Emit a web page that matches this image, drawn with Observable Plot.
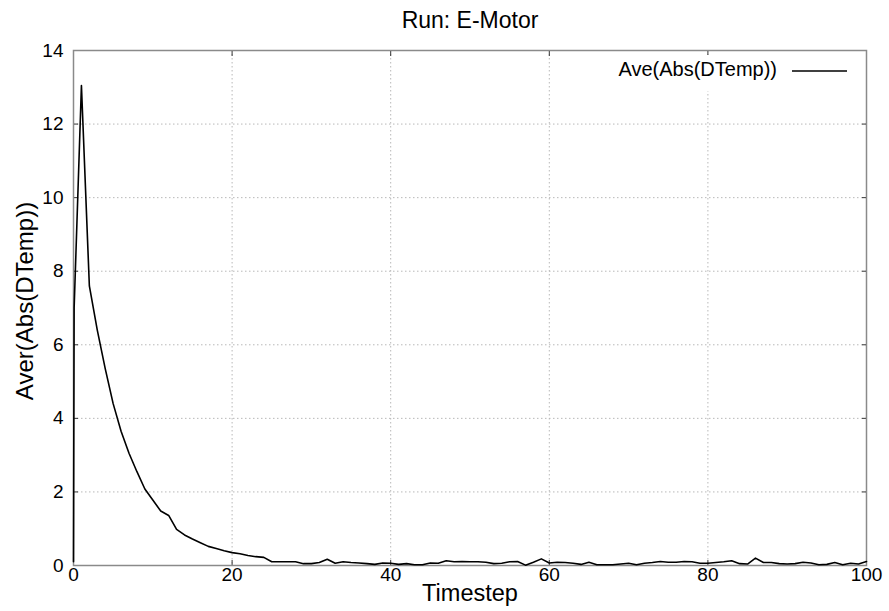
<!DOCTYPE html>
<html>
<head>
<meta charset="utf-8">
<script src="https://cdn.jsdelivr.net/npm/d3@7"></script>
<script src="https://cdn.jsdelivr.net/npm/@observablehq/plot@0.6"></script>
<style>
  html, body { margin: 0; padding: 0; background: #fff; }
  #chart { width: 889px; height: 611px; }
  svg { font-family: "Liberation Sans", Arial, Helvetica, sans-serif; }
</style>
</head>
<body>
<div id="chart"></div>
<script>
const title = "Run: E-Motor";
const xLabel = "Timestep";
const yLabel = "Aver(Abs(DTemp))";
const seriesName = "Ave(Abs(DTemp))";
const xTicks = [0, 20, 40, 60, 80, 100];
const yTicks = [0, 2, 4, 6, 8, 10, 12, 14];

const startSteps = [0, 0.08];
const startValues = [0.1, 7.0];

// values at timesteps 1..100
const stepValues = [
  13.05, 7.6, 6.4, 5.35, 4.4, 3.65, 3.05, 2.55, 2.08, 1.78,
  1.48, 1.36, 0.98, 0.83, 0.72, 0.62, 0.52, 0.46, 0.40, 0.35,
  0.32, 0.27, 0.24, 0.22, 0.10, 0.10, 0.10, 0.10, 0.05, 0.05,
  0.08, 0.17, 0.06, 0.10, 0.08, 0.07, 0.05, 0.03, 0.07, 0.06,
  0.03, 0.05, 0.02, 0.02, 0.07, 0.06, 0.13, 0.10, 0.11, 0.10,
  0.10, 0.09, 0.05, 0.06, 0.10, 0.11, 0.01, 0.09, 0.18, 0.07,
  0.09, 0.08, 0.06, 0.03, 0.09, 0.02, 0.02, 0.02, 0.04, 0.06,
  0.02, 0.06, 0.08, 0.11, 0.09, 0.09, 0.11, 0.10, 0.06, 0.06,
  0.08, 0.10, 0.13, 0.05, 0.04, 0.20, 0.08, 0.08, 0.05, 0.04,
  0.05, 0.09, 0.07, 0.02, 0.03, 0.08, 0.02, 0.06, 0.04, 0.11
];

const data = [
  ...startSteps.map((t, i) => ({t, v: startValues[i]})),
  ...stepValues.map((v, i) => ({t: i + 1, v}))
];

const W = 889, H = 611;
const mL = 73, mR = 23, mT = 50, mB = 46;

const chart = Plot.plot({
  width: W,
  height: H,
  marginLeft: mL,
  marginRight: mR,
  marginTop: mT,
  marginBottom: mB,
  style: {fontFamily: '"Liberation Sans", Arial, sans-serif', background: "#fff", overflow: "visible"},
  x: {domain: [0, 100], ticks: xTicks, label: null},
  y: {domain: [0, 14], ticks: yTicks, label: null},
  marks: [
    Plot.gridX(xTicks.slice(1, -1), {stroke: "#b8b8b8", strokeOpacity: 1, strokeDasharray: "1.5,2.5"}),
    Plot.gridY(yTicks.slice(1, -1), {stroke: "#b8b8b8", strokeOpacity: 1, strokeDasharray: "1.5,2.5"}),
    Plot.axisY(yTicks, {anchor: "left", tickSize: -5, tickPadding: 15, fontSize: 19, stroke: "#333", label: null}),
    Plot.axisY(yTicks, {anchor: "right", tickSize: -5, text: null, stroke: "#333", label: null}),
    Plot.axisX(xTicks, {anchor: "bottom", tickSize: -5, tickPadding: 7, fontSize: 19, stroke: "#333", label: null}),
    Plot.axisX(xTicks, {anchor: "top", tickSize: -5, text: null, stroke: "#333", label: null}),
    Plot.frame({stroke: "#8a8a8a", strokeWidth: 1.5}),
    Plot.line(data, {x: "t", y: "v", stroke: "#000", strokeWidth: 1.6}),
    Plot.text([title], {frameAnchor: "top", lineAnchor: "middle", dy: -30, fontSize: 23, fill: "#000"}),
    Plot.text([xLabel], {frameAnchor: "bottom", lineAnchor: "middle", dy: 28, fontSize: 23.5, fill: "#000"}),
    Plot.text([yLabel], {frameAnchor: "left", textAnchor: "middle", lineAnchor: "middle", rotate: -90, dx: -48, dy: -7, fontSize: 24, fill: "#000"})
  ]
});

document.getElementById("chart").appendChild(chart);

// legend (key) in the top-right corner of the plot frame
const svg = d3.select(chart);
const key = svg.append("g").attr("class", "key");
key.append("rect")
  .attr("x", W - mR - 262).attr("y", mT + 5)
  .attr("width", 255).attr("height", 36)
  .attr("fill", "#fff");
key.append("text")
  .attr("x", W - mR - 89).attr("y", mT + 21)
  .attr("text-anchor", "end")
  .attr("dominant-baseline", "middle")
  .attr("font-size", 20)
  .attr("fill", "#000")
  .text(seriesName);
key.append("line")
  .attr("x1", W - mR - 74).attr("x2", W - mR - 19)
  .attr("y1", mT + 21).attr("y2", mT + 21)
  .attr("stroke", "#000").attr("stroke-width", 1.6);
</script>
</body>
</html>
